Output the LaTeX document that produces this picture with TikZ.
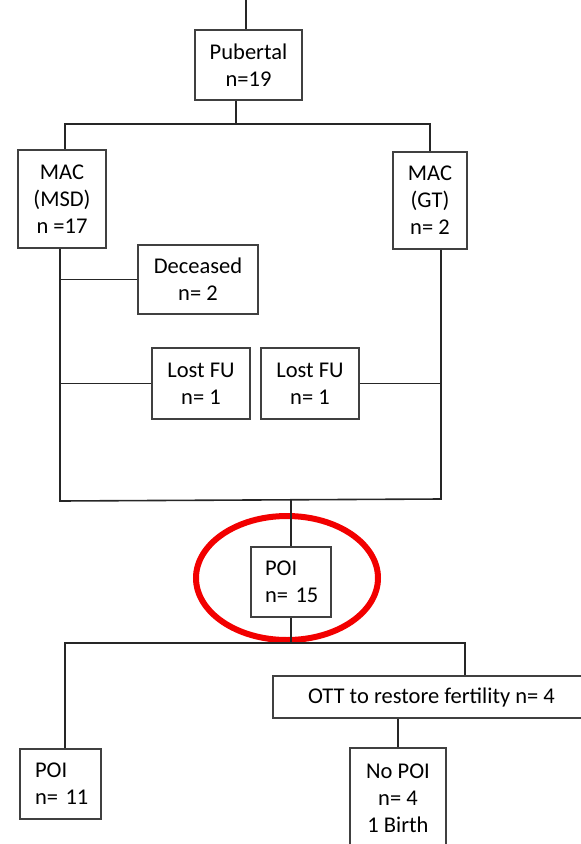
\documentclass[tikz,border=0pt]{standalone}
\usepackage{fontspec}
\setmainfont{Carlito}
\usetikzlibrary{shapes.geometric}

\begin{document}
\begin{tikzpicture}[x=1pt,y=-1pt,line join=miter]

  \tikzstyle{box}=[rectangle,draw=black!75,fill=white,line width=1.5pt,
    inner sep=0pt,align=center,font=\fontsize{22.5}{27}\selectfont]
  \tikzstyle{leftbox}=[box,align=left,inner xsep=11pt]
  \tikzstyle{link}=[draw=black!85,line width=1.6pt]
  \tikzstyle{ring}=[ellipse,draw=red!95!black,line width=6pt]

  \useasboundingbox (0,0) rectangle (581,844);

  %% highlight round the POI box
  \node  (hl)    at (287,578)   [ring,minimum width=182pt,minimum height=124pt] {};

  \node  (pub)   at (248.5,65)  [box,minimum width=107pt,minimum height=70pt]
         {Pubertal\\n=19};

  \node  (msd)   at (62,199)    [box,minimum width=88pt,minimum height=98pt]
         {MAC\\(MSD)\\n =17};
  \node  (gt)    at (430,200.5) [box,minimum width=74pt,minimum height=97pt]
         {MAC\\(GT)\\n= 2};

  \node  (dec)   at (198,279.5) [box,minimum width=120pt,minimum height=69pt]
         {Deceased\\n= 2};
  \node  (lost1) at (201,383.5) [box,minimum width=98pt,minimum height=71pt]
         {Lost FU\\n= 1};
  \node  (lost2) at (310,383.5) [box,minimum width=98pt,minimum height=71pt]
         {Lost FU\\n= 1};

  \node  (poi)   at (291,582)   [leftbox,text width=58pt,minimum width=80pt,minimum height=70pt]
         {\hspace*{3pt}POI\\\hspace*{3pt}n= 15};

  \node  (poi11) at (60.5,784)  [leftbox,text width=59pt,minimum width=81pt,minimum height=70pt]
         {\hspace*{4pt}POI\\\hspace*{4pt}n= 11};
  \node  (ott)   at (431.5,697) [box,minimum width=317pt,minimum height=42pt]
         {OTT to restore fertility n= 4};
  \node  (nopoi) at (398,798)   [box,minimum width=96pt,minimum height=100pt]
         {No POI\\n= 4\\1 Birth};

  %% junctions of the tree
  \coordinate (in)  at (246,0);
  \coordinate (s1)  at (236,124);
  \coordinate (s1l) at (65,124);
  \coordinate (s1r) at (430,124);
  \coordinate (m2l) at (60,501);
  \coordinate (m2r) at (441,499);
  \coordinate (m2)  at (291,500);
  \coordinate (s3)  at (291,643);
  \coordinate (s3l) at (65,643);
  \coordinate (s3r) at (465,643);

  \draw [link] (in) -- (in |- pub.north);
  \draw [link] (pub.south -| s1) -- (s1);
  \draw [link] (s1l |- msd.north) -- (s1l) -- (s1r) -- (gt.north);

  \draw [link] (m2l |- msd.south) -- (m2l) -- (m2r) -- (m2r |- gt.south);
  \draw [link] (m2l |- dec.west) -- (dec.west);
  \draw [link] (m2l |- lost1.west) -- (lost1.west);
  \draw [link] (lost2.east) -- (m2r |- lost2.east);

  \path (m2)  edge [link] (poi.north)
        (poi) edge [link] (s3);

  \draw [link] (s3l |- poi11.north) -- (s3l) -- (s3r) -- (s3r |- ott.north);
  \draw [link] (ott.south -| nopoi.north) -- (nopoi.north);
\end{tikzpicture}
\end{document}
